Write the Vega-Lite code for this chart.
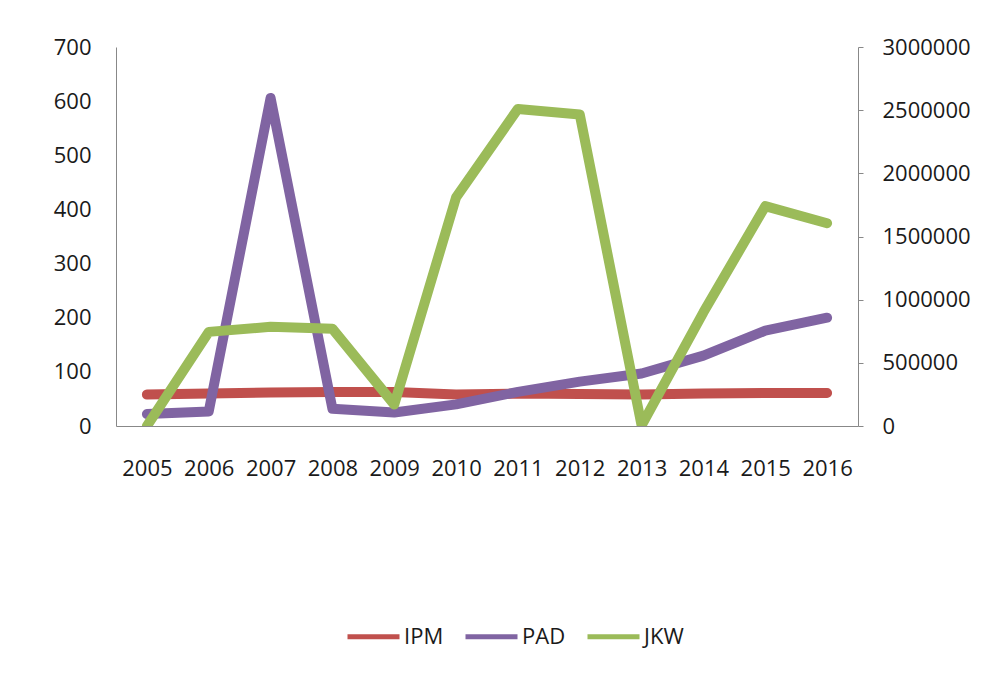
{
  "$schema": "https://vega.github.io/schema/vega-lite/v6.json",
  "width": 742,
  "height": 379,
  "autosize": "none",
  "padding": {"left": 116, "top": 47, "right": 145, "bottom": 250},
  "background": "white",
  "config": {
    "font": "Open Sans",
    "view": {"stroke": null},
    "axis": {"grid": false, "domainColor": "#888888", "tickColor": "#888888", "labelColor": "#1a1a1a", "labelFontSize": 22, "labelFont": "Open Sans", "title": null}
  },
  "data": {
    "values": [
      {"year": "2005", "series": "IPM", "value": 58},
      {"year": "2006", "series": "IPM", "value": 60},
      {"year": "2007", "series": "IPM", "value": 62},
      {"year": "2008", "series": "IPM", "value": 63},
      {"year": "2009", "series": "IPM", "value": 63},
      {"year": "2010", "series": "IPM", "value": 58},
      {"year": "2011", "series": "IPM", "value": 60},
      {"year": "2012", "series": "IPM", "value": 59},
      {"year": "2013", "series": "IPM", "value": 58},
      {"year": "2014", "series": "IPM", "value": 60},
      {"year": "2015", "series": "IPM", "value": 61},
      {"year": "2016", "series": "IPM", "value": 61},
      {"year": "2005", "series": "PAD", "value": 22},
      {"year": "2006", "series": "PAD", "value": 27},
      {"year": "2007", "series": "PAD", "value": 606},
      {"year": "2008", "series": "PAD", "value": 32},
      {"year": "2009", "series": "PAD", "value": 25},
      {"year": "2010", "series": "PAD", "value": 40},
      {"year": "2011", "series": "PAD", "value": 63},
      {"year": "2012", "series": "PAD", "value": 82},
      {"year": "2013", "series": "PAD", "value": 97},
      {"year": "2014", "series": "PAD", "value": 130},
      {"year": "2015", "series": "PAD", "value": 176},
      {"year": "2016", "series": "PAD", "value": 200},
      {"year": "2005", "series": "JKW", "value": 0},
      {"year": "2006", "series": "JKW", "value": 745000},
      {"year": "2007", "series": "JKW", "value": 785000},
      {"year": "2008", "series": "JKW", "value": 770000},
      {"year": "2009", "series": "JKW", "value": 170000},
      {"year": "2010", "series": "JKW", "value": 1810000},
      {"year": "2011", "series": "JKW", "value": 2510000},
      {"year": "2012", "series": "JKW", "value": 2465000},
      {"year": "2013", "series": "JKW", "value": 5000},
      {"year": "2014", "series": "JKW", "value": 900000},
      {"year": "2015", "series": "JKW", "value": 1740000},
      {"year": "2016", "series": "JKW", "value": 1605000}
    ]
  },
  "encoding": {
    "x": {
      "field": "year", "type": "ordinal",
      "scale": {"type": "point", "padding": 0.5},
      "axis": {"labelAngle": 0, "ticks": false, "labelPadding": 32, "domainWidth": 1}
    },
    "color": {
      "field": "series", "type": "nominal",
      "scale": {"domain": ["IPM", "PAD", "JKW"], "range": ["#C0504D", "#8064A2", "#9BBB59"]},
      "legend": {
        "title": null, "orient": "none", "direction": "horizontal",
        "legendX": 229, "legendY": 561,
        "symbolType": "stroke", "symbolSize": 2704, "symbolStrokeWidth": 5,
        "labelFontSize": 22, "labelFont": "Open Sans", "labelColor": "#1a1a1a",
        "labelOffset": 2, "columnPadding": 11
      }
    }
  },
  "layer": [
    {
      "transform": [{"filter": "datum.series !== 'JKW'"}],
      "mark": {"type": "line", "strokeWidth": 10, "strokeCap": "round", "strokeJoin": "round", "clip": true},
      "encoding": {
        "y": {
          "field": "value", "type": "quantitative",
          "scale": {"domain": [0, 700], "nice": false},
          "axis": {"values": [0, 100, 200, 300, 400, 500, 600, 700], "ticks": false, "labelPadding": 25, "format": "d"}
        }
      }
    },
    {
      "transform": [{"filter": "datum.series === 'JKW'"}],
      "mark": {"type": "line", "strokeWidth": 10, "strokeCap": "round", "strokeJoin": "round", "clip": true},
      "encoding": {
        "y": {
          "field": "value", "type": "quantitative",
          "scale": {"domain": [0, 3000000], "nice": false},
          "axis": {"orient": "right", "values": [0, 500000, 1000000, 1500000, 2000000, 2500000, 3000000], "tickSize": 5, "labelPadding": 19, "format": "d"}
        }
      }
    }
  ],
  "resolve": {"scale": {"y": "independent"}}
}
